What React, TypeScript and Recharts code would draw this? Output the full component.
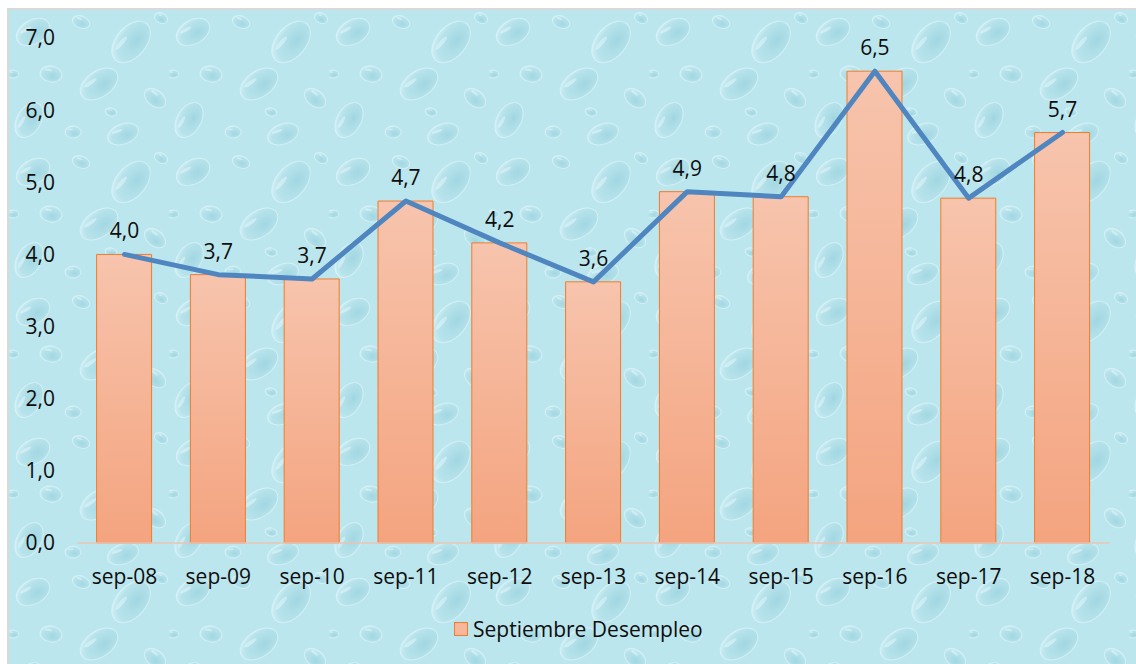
import React from 'react'
import {
  ComposedChart, Bar, Line, XAxis, YAxis, Legend, LabelList
} from 'recharts'

const categories = ['sep-08', 'sep-09', 'sep-10', 'sep-11', 'sep-12', 'sep-13', 'sep-14', 'sep-15', 'sep-16', 'sep-17', 'sep-18']
const desempleo = [4.0, 3.72, 3.66, 4.74, 4.16, 3.62, 4.87, 4.8, 6.54, 4.78, 5.69]
const yTicks = [0, 1, 2, 3, 4, 5, 6, 7]
const seriesName = 'Septiembre Desempleo'

const data = categories.map((c, i) => ({ mes: c, valor: desempleo[i] }))

const fmt = (v: any) => Number(v).toFixed(1).replace('.', ',')

const FONT = '"Open Sans", "DejaVu Sans", sans-serif'
const FS = 21

// decorative water-drop tile (background only): x, y, rx, ry, angle
const drops: Array<[number, number, number, number, number]> = [
  [24, 22, 18, 12, -30], [72, 12, 9, 6, 20], [122, 32, 24, 15, -50], [42, 64, 11, 8, 10],
  [90, 74, 21, 13, -35], [146, 88, 12, 8, 40], [20, 110, 19, 12, -60], [64, 122, 8, 6, 0],
  [114, 124, 16, 10, -20], [152, 8, 7, 5, 30], [4, 64, 6, 4, 0], [102, 102, 6, 4, 15]
]

function Backdrop() {
  return (
    <svg width={1140} height={670} style={{ position: 'absolute', left: 0, top: 0 }}>
      <defs>
        <radialGradient id="drop" cx="60%" cy="62%" r="62%">
          <stop offset="0%" stopColor="#86c7d5" stopOpacity={0.5} />
          <stop offset="75%" stopColor="#a6d9e3" stopOpacity={0.3} />
          <stop offset="100%" stopColor="#dff5f9" stopOpacity={0.45} />
        </radialGradient>
        <pattern id="water" width={160} height={140} patternUnits="userSpaceOnUse">
          <rect width={160} height={140} fill="#bce6ee" />
          {drops.map(([x, y, rx, ry, a], i) => (
            <g key={i} transform={`rotate(${a} ${x} ${y})`}>
              <ellipse cx={x} cy={y} rx={rx} ry={ry} fill="url(#drop)" stroke="#e3f7fa" strokeOpacity={0.6} strokeWidth={1} />
              <ellipse cx={x - rx * 0.3} cy={y - ry * 0.45} rx={rx * 0.35} ry={ry * 0.15} fill="#f4fdff" opacity={0.4} />
            </g>
          ))}
        </pattern>
      </defs>
      <rect x={0} y={0} width={1140} height={670} fill="url(#water)" />
    </svg>
  )
}

function LegendContent() {
  return (
    <div style={{ display: 'flex', alignItems: 'center', paddingLeft: 454, height: 30, fontFamily: FONT, fontSize: FS, color: '#0d0d0d' }}>
      <span style={{ display: 'inline-block', width: 12, height: 12, background: '#f6b79b', border: '1px solid #f07c2c', marginRight: 5 }} />
      <span>{seriesName}</span>
    </div>
  )
}

export default function App() {
  return (
    <div style={{ position: 'absolute', left: 0, top: 0, width: 1136, height: 664, background: '#fff', overflow: 'hidden' }}>
      <div style={{ position: 'absolute', left: 7, top: 8, width: 1140, height: 670, border: '2px solid #d9d9d9', overflow: 'hidden' }}>
        <Backdrop />
      </div>
      <div style={{ position: 'absolute', left: 0, top: 0 }}>
        <ComposedChart
          width={1136}
          height={664}
          data={data}
          margin={{ top: 38, right: 26.6, left: 0, bottom: 41 }}
          barCategoryGap="20%"
        >
          <defs>
            <linearGradient id="barFill" x1="0" y1="0" x2="0" y2="1">
              <stop offset="0%" stopColor="#f7c4ad" />
              <stop offset="100%" stopColor="#f4a47f" />
            </linearGradient>
          </defs>
          <XAxis
            dataKey="mes"
            height={50}
            tickSize={0}
            tickMargin={26}
            axisLine={{ stroke: '#e9c4b4', strokeWidth: 1.5 }}
            tick={{ fill: '#0d0d0d', fontSize: FS, fontFamily: FONT }}
            interval={0}
          />
          <YAxis
            width={77.6}
            domain={[0, 7]}
            ticks={yTicks}
            tickFormatter={fmt}
            tickSize={0}
            tickMargin={22.6}
            axisLine={false}
            tick={{ fill: '#0d0d0d', fontSize: FS, fontFamily: FONT }}
          />
          <Legend
            verticalAlign="bottom"
            content={LegendContent}
            wrapperStyle={{ left: 0, width: 1136, height: 30, bottom: 20 }}
          />
          <Bar
            dataKey="valor"
            name={seriesName}
            fill="url(#barFill)"
            stroke="#f07c2c"
            strokeWidth={1}
            barSize={55}
            isAnimationActive={false}
          />
          <Line
            dataKey="valor"
            type="linear"
            stroke="#4f86c0"
            strokeWidth={5}
            strokeLinejoin="round"
            strokeLinecap="round"
            dot={false}
            activeDot={false}
            legendType="none"
            isAnimationActive={false}
          >
            <LabelList
              dataKey="valor"
              position="top"
              offset={16}
              formatter={fmt}
              style={{ fill: '#0d0d0d', fontSize: FS, fontFamily: FONT }}
            />
          </Line>
        </ComposedChart>
      </div>
    </div>
  )
}
